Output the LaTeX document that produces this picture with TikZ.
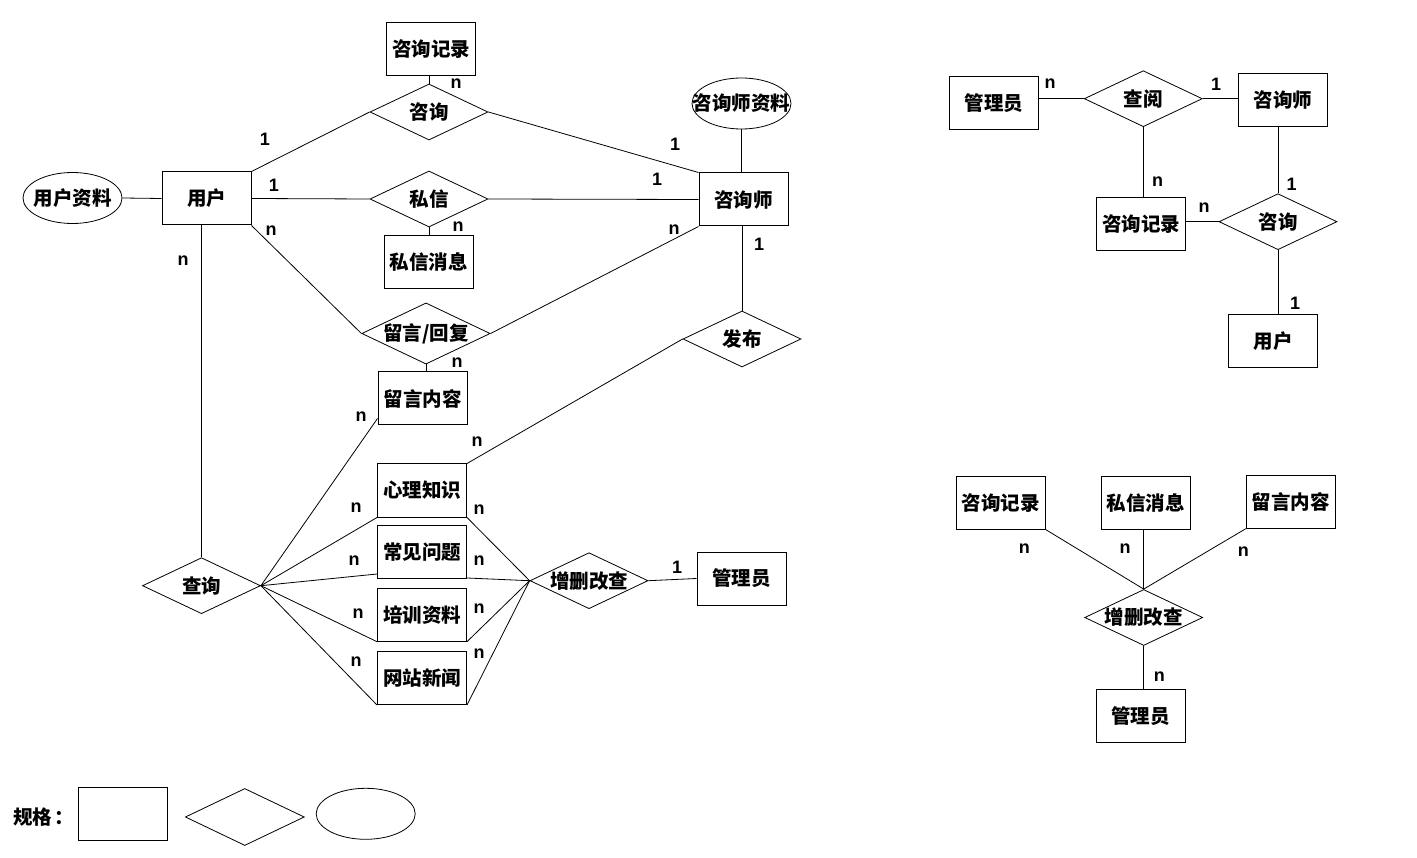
\documentclass[tikz,border=0pt]{standalone}
\usepackage{fontspec}
\setmainfont{Noto Sans CJK SC}
\newfontfamily\cardfont{Liberation Sans}
\usetikzlibrary{shapes.geometric}
\begin{document}
\begin{tikzpicture}[x=1pt,y=-1pt,
  every node/.style={font=\fontsize{19.5}{21}\selectfont\bfseries},
  ent/.style={draw,line width=1pt,minimum width=89,minimum height=53,inner sep=0},
  rel/.style={draw,line width=0.8pt,diamond,aspect=2.1,minimum width=118,minimum height=56,inner sep=0},
  attr/.style={draw,line width=0.8pt,ellipse,minimum width=99,minimum height=51,inner sep=0},
  card/.style={font=\cardfont\fontsize{18}{19}\selectfont\bfseries,inner sep=0},
  conn/.style={line width=0.8pt}]
\useasboundingbox (0,0) rectangle (1417,858);

% ---- left diagram ----
\node[ent] (jl1) at (431,49.5) {咨询记录};
\node[rel] (zx1) at (429,112) {咨询};
\node[ent] (yh) at (206.5,198.5) {用户};
\node[attr] (yhzl) at (72.5,198) {\makebox[0pt]{用户资料}};
\node[rel] (sx) at (429,199) {私信};
\node[ent] (sxxx) at (428.5,262.5) {私信消息};
\node[ent] (zxs) at (743.5,199.5) {咨询师};
\node[attr] (zxszl) at (741.5,103.5) {\makebox[0pt]{咨询师资料}};
\node[rel] (ly) at (426,333.5) {留言/回复};
\node[ent] (lynr) at (422.5,398.5) {留言内容};
\node[rel] (fb) at (742,339) {发布};
\node[ent] (xl) at (422,490.5) {心理知识};
\node[ent] (cj) at (422,552) {常见问题};
\node[ent] (px) at (422,614.7) {培训资料};
\node[ent] (wz) at (422,678) {网站新闻};
\node[rel] (cx) at (201.5,585.7) {查询};
\node[rel] (zs) at (589,580.7) {增删改查};
\node[ent] (gly) at (741.5,578.5) {管理员};

\draw[conn] (yhzl.east) -- (yh.west);
\draw[conn] (yh.north east) -- (zx1.west);
\draw[conn] (zx1.east) -- (zxs.north west);
\draw[conn] (zx1.north) -- (zx1.north |- jl1.south);
\draw[conn] (yh.east) -- (sx.west);
\draw[conn] (sx.east) -- (zxs.west);
\draw[conn] (sx.south) -- (sx.south |- sxxx.north);
\draw[conn] (yh.south east) -- (ly.west);
\draw[conn] (ly.east) -- (zxs.south west);
\draw[conn] (ly.south) -- (ly.south |- lynr.north);
\draw[conn] (zxszl.south) -- (zxszl.south |- zxs.north);
\draw[conn] (fb.north) -- (fb.north |- zxs.south);
\draw[conn] (fb.west) -- (xl.north east);
\draw[conn] (cx.north) -- (cx.north |- yh.south);
\draw[conn] (cx.east) -- ([yshift=7pt]lynr.south west);
\draw[conn] (cx.east) -- (xl.south west);
\draw[conn] (cx.east) -- ([yshift=5pt]cj.south west);
\draw[conn] (cx.east) -- (px.south west);
\draw[conn] (cx.east) -- (wz.south west);
\draw[conn] (zs.west) -- (xl.south east);
\draw[conn] (zs.west) -- ([yshift=1pt]cj.south east);
\draw[conn] (zs.west) -- (px.south east);
\draw[conn] (zs.west) -- (wz.south east);
\draw[conn] (zs.east) -- (gly.west);

\node[card] (c1) at (456,84) {n};
\node[card] (c2) at (265,139) {1};
\node[card] (c3) at (675,144) {1};
\node[card] (c4) at (274,185) {1};
\node[card] (c5) at (657,179) {1};
\node[card] (c6) at (458,227) {n};
\node[card] (c7) at (271,231) {n};
\node[card] (c8) at (674,230) {n};
\node[card] (c9) at (183,261) {n};
\node[card] (c10) at (759,244) {1};
\node[card] (c11) at (457,363) {n};
\node[card] (c12) at (361,417) {n};
\node[card] (c13) at (477,442) {n};
\node[card] (c14) at (356,508) {n};
\node[card] (c15) at (479,510) {n};
\node[card] (c16) at (354,561) {n};
\node[card] (c17) at (479,561) {n};
\node[card] (c18) at (358,614) {n};
\node[card] (c19) at (479,609) {n};
\node[card] (c20) at (356,662) {n};
\node[card] (c21) at (479,654) {n};
\node[card] (c22) at (677,567) {1};

% ---- right top diagram ----
\node[ent] (gly2) at (994,102.7) {管理员};
\node[rel] (cy) at (1143.3,98.7) {查阅};
\node[ent] (zxs2) at (1283,99.7) {咨询师};
\node[ent] (jl2) at (1141,223.7) {咨询记录};
\node[rel] (zx2) at (1278,221.7) {咨询};
\node[ent] (yh2) at (1273,340.7) {用户};

\draw[conn] (cy.west) -- (cy.west -| gly2.east);
\draw[conn] (cy.east) -- (cy.east -| zxs2.west);
\draw[conn] (cy.south) -- (cy.south |- jl2.north);
\draw[conn] (zx2.north) -- (zx2.north |- zxs2.south);
\draw[conn] (zx2.west) -- (zx2.west -| jl2.east);
\draw[conn] (zx2.south) -- (zx2.south |- yh2.north);

\node[card] (d1) at (1050,83.3) {n};
\node[card] (d2) at (1216,84) {1};
\node[card] (d3) at (1157.7,181.7) {n};
\node[card] (d4) at (1291.7,184) {1};
\node[card] (d5) at (1204,207.7) {n};
\node[card] (d6) at (1295,303.3) {1};

% ---- right bottom diagram ----
\node[ent] (jl3) at (1000.9,502.7) {咨询记录};
\node[ent] (sx3) at (1145.8,502.7) {私信消息};
\node[ent] (ly3) at (1290.8,501.7) {留言内容};
\node[rel] (zs3) at (1143.7,617.5) {增删改查};
\node[ent] (gly3) at (1140.7,715.7) {管理员};

\draw[conn] (jl3.south east) -- (zs3.north);
\draw[conn] (zs3.north) -- (zs3.north |- sx3.south);
\draw[conn] (ly3.south west) -- (zs3.north);
\draw[conn] (zs3.south) -- (zs3.south |- gly3.north);

\node[card] (e1) at (1024.3,549) {n};
\node[card] (e2) at (1125,549) {n};
\node[card] (e3) at (1243.3,551.7) {n};
\node[card] (e4) at (1159.3,676.7) {n};

% ---- legend ----
\node[anchor=west,inner sep=0] (gg) at (13,816.7) {规格\hspace{2pt}：};
\node[ent] (lg1) at (122.8,813.8) {};
\node[rel,minimum width=119,minimum height=57] (lg2) at (244.8,817) {};
\node[attr] (lg3) at (365.7,813.8) {};
\end{tikzpicture}
\end{document}
